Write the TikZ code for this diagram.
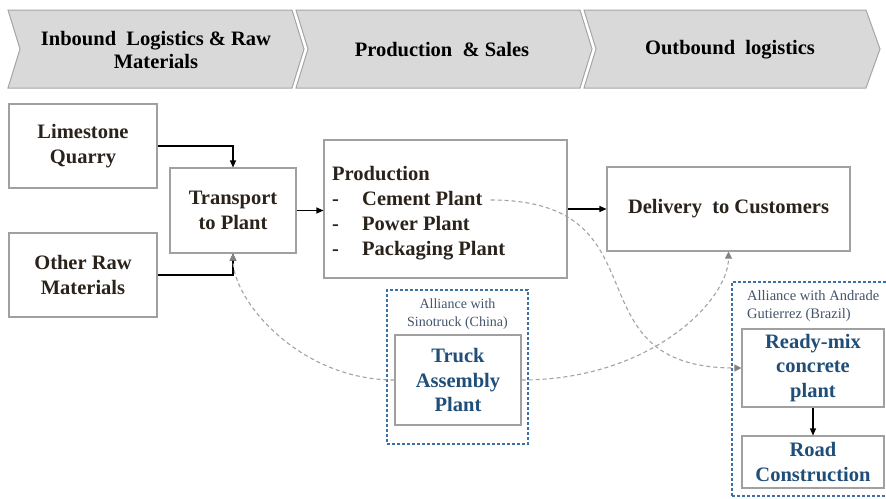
\documentclass[tikz,border=0pt]{standalone}
\usepackage{fontspec}
\setmainfont{Liberation Serif}
\usetikzlibrary{arrows.meta}

\definecolor{chevfill}{HTML}{D9D9D9}
\definecolor{chevline}{HTML}{A6A6A6}
\definecolor{boxline}{HTML}{A0A0A0}
\definecolor{inktext}{HTML}{2A231B}
\definecolor{bluetext}{HTML}{1F4E79}
\definecolor{alliline}{HTML}{3A72A8}
\definecolor{allitext}{HTML}{44546A}
\definecolor{linkgray}{HTML}{A3A3A3}
\definecolor{linktip}{HTML}{838383}

\tikzset{
  chevron/.style={fill=chevfill, draw=chevline, line width=1pt},
  headtext/.style={font=\fontsize{20.5}{23}\selectfont\bfseries, text=black, align=center, inner sep=0pt},
  stagebox/.style={draw=boxline, line width=1.1pt, fill=white, inner sep=0pt,
    font=\fontsize{20.5}{24.5}\selectfont\bfseries, text=inktext, align=center},
  bluebox/.style={stagebox, text=bluetext},
  listline/.style={font=\fontsize{20.5}{24.5}\selectfont\bfseries, text=inktext, inner sep=0pt, anchor=base west},
  alliance/.style={draw=alliline, line width=1.1pt, dash pattern=on 3pt off 2pt, inner sep=0pt},
  alliancetext/.style={font=\fontsize{14}{18}\selectfont, text=allitext, inner sep=0pt},
  flow/.style={draw=black, line width=1.1pt, -{Triangle[length=7pt,width=6pt]}},
  link/.style={draw=linkgray, line width=1.1pt, dash pattern=on 4pt off 3pt,
    -{Triangle[length=7pt,width=7pt,color=linktip]}}
}

\begin{document}
\begin{tikzpicture}[x=1pt,y=-1pt]
\useasboundingbox (0,0) rectangle (886,498);
\fill[white] (0,0) rectangle (886,498);

% value-chain header
\draw[chevron] (8,10) -- (292,10) -- (304,49) -- (292,88) -- (8,88) -- (20,49) -- cycle;
\draw[chevron] (296,10) -- (580,10) -- (592,49) -- (580,88) -- (296,88) -- (308,49) -- cycle;
\draw[chevron] (584,10) -- (866,10) -- (880,49) -- (866,88) -- (584,88) -- (596,49) -- cycle;
\node[headtext] (inbound) at (156,50) {Inbound\ \ Logistics \& Raw\\Materials};
\node[headtext] (prodsales) at (442,50) {Production\ \ \& Sales};
\node[headtext] (outbound) at (730,50) {Outbound\ \ logistics};

% alliance frames
\node[alliance, minimum width=141pt, minimum height=154pt] (sinoframe) at (457.5,367) {};
\node[alliance, minimum width=160pt, minimum height=214pt] (agframe) at (812,389) {};
\node[alliancetext, align=center] (sinolabel) at (457.5,314) {Alliance with\\Sinotruck (China)};
\node[alliancetext, align=left, anchor=west, font=\fontsize{14.5}{18}\selectfont] (aglabel) at (747,306) {Alliance with Andrade\\Gutierrez (Brazil)};

% main chain
\node[stagebox, minimum width=148pt, minimum height=84pt] (lime) at (83,146) {Limestone\\Quarry};
\node[stagebox, minimum width=148pt, minimum height=84pt] (other) at (83,275) {Other Raw\\Materials};
\node[stagebox, minimum width=126pt, minimum height=85pt] (transport) at (233,210.5) {Transport\\to Plant};
\node[stagebox, minimum width=243pt, minimum height=138pt] (prod) at (445.5,209) {};
\node[listline] (prodtitle) at (332,180) {Production};
\node[listline] (dasha) at (332,205) {-};
\node[listline] (dashb) at (332,230) {-};
\node[listline] (dashc) at (332,255) {-};
\node[listline] (cement) at (362,205) {Cement Plant};
\node[listline] (power) at (362,230) {Power Plant};
\node[listline] (pack) at (362,255) {Packaging Plant};
\node[stagebox, minimum width=243pt, minimum height=84pt] (delivery) at (728.5,209) {Delivery\ \ to Customers};

% partner operations
\node[bluebox, minimum width=126pt, minimum height=90pt] (truck) at (458,380) {Truck\\Assembly\\Plant};
\node[bluebox, minimum width=142pt, minimum height=78pt] (ready) at (813,368) {Ready-mix\\concrete\\plant};
\node[bluebox, minimum width=142pt, minimum height=52pt] (road) at (813,462) {Road\\Construction};

% material flow
\draw[flow] (lime.east) -| (transport.north);
\draw[flow] (other.east) -| (transport.south);
\draw[flow] (transport.east) -- (transport.east -| prod.west);
\draw[flow] (prod.east) -- (delivery.west);
\draw[flow] (ready.south) -- (road.north);

% alliance links
\coordinate (cementend) at ([xshift=8pt,yshift=5pt]cement.base east);
\draw[link] (cementend) .. controls +(179,0) and +(-176,0) .. (ready.west);
\draw[link] (truck.east) .. controls +(129,0) and +(0,49) .. (delivery.south);
\draw[link] (truck.west) .. controls +(-95,0) and +(0,47) .. (transport.south);
\end{tikzpicture}
\end{document}
